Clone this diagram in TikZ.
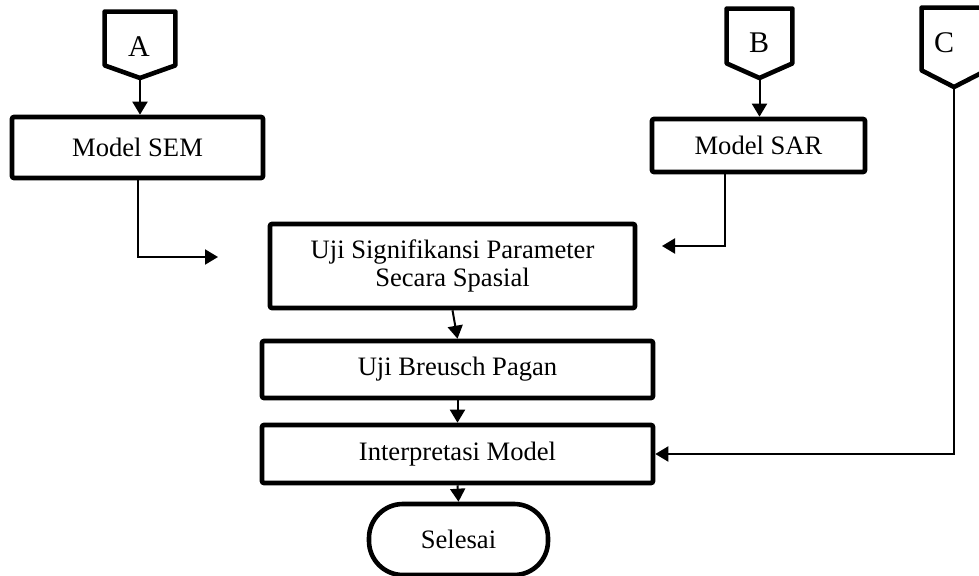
\documentclass[tikz,border=0pt]{standalone}
\usepackage{fontspec}
\setmainfont{Liberation Serif}
\usetikzlibrary{arrows.meta}

\tikzset{
  >={Triangle[length=6.5pt,width=7.5pt]},
  flow/.style={black,line width=1pt},
  proc/.style={draw,line width=2.3pt,rounded corners=1pt,align=center,inner sep=0pt,font=\fontsize{13.3}{14}\selectfont},
  term/.style={proc,rounded corners=17pt},
  offpage/.style={inner sep=0pt},
  offline/.style={line width=2.3pt,line join=round},
  offtext/.style={inner sep=0pt,font=\fontsize{15}{18}\selectfont}
}

\begin{document}
\begin{tikzpicture}[x=0.5pt,y=-0.5pt]
\useasboundingbox (0,0) rectangle (979,576);
% penghubung halaman
\node[offpage,minimum width=35pt,minimum height=26.5pt] (A) at (140,38.5) {};
\coordinate (Atip) at (140,78);
\draw[offline] (A.north west) -- (A.north east) -- (A.south east) -- (Atip) -- (A.south west) -- cycle;
\node[offtext] (Alab) at (139,47) {A};
\node[offpage,minimum width=32.5pt,minimum height=27pt] (B) at (759.5,36) {};
\coordinate (Btip) at (759.5,78);
\draw[offline] (B.north west) -- (B.north east) -- (B.south east) -- (Btip) -- (B.south west) -- cycle;
\node[offtext] (Blab) at (759,43) {B};
\node[offpage,minimum width=32pt,minimum height=31pt] (C) at (954,39) {};
\coordinate (Ctip) at (954,87);
\draw[offline] (C.north west) -- (C.north east) -- (C.south east) -- (Ctip) -- (C.south west) -- cycle;
\node[offtext] (Clab) at (944,43) {C};
% proses
\node[proc,minimum width=125.5pt,minimum height=30.5pt] (SEM) at (137.5,147.5) {Model SEM};
\node[proc,minimum width=106.5pt,minimum height=26.5pt] (SAR) at (758.5,145.5) {Model SAR};
\node[proc,minimum width=182.5pt,minimum height=42pt] (Uji) at (452.5,266) {Uji Signifikansi Parameter\\Secara Spasial};
\node[proc,minimum width=195.5pt,minimum height=28.5pt] (Breusch) at (457.5,369.5) {Uji Breusch Pagan};
\node[proc,minimum width=195.5pt,minimum height=29pt] (Interp) at (457.5,454) {Interpretasi Model};
\node[term,minimum width=89.5pt,minimum height=35.5pt] (Selesai) at (458.5,539.5) {Selesai};
% panah
\draw[flow,->] (Atip) -- (Atip |- SEM.north);
\draw[flow,->] (Btip) -- (Btip |- SAR.north);
\coordinate (semend) at (218,257);
\draw[flow,->] (SEM.south) |- (semend);
\coordinate (sarend) at (662,246);
\draw[flow,->] ([xshift=-16.75pt]SAR.south) |- (sarend);
\draw[flow,->] (Uji.south) -- (Breusch.north);
\draw[flow,->] (Breusch.south) -- (Interp.north);
\draw[flow,->] (Interp.south) -- (Selesai.north);
\draw[flow,->] (Ctip) |- (Interp.east);
\end{tikzpicture}
\end{document}
